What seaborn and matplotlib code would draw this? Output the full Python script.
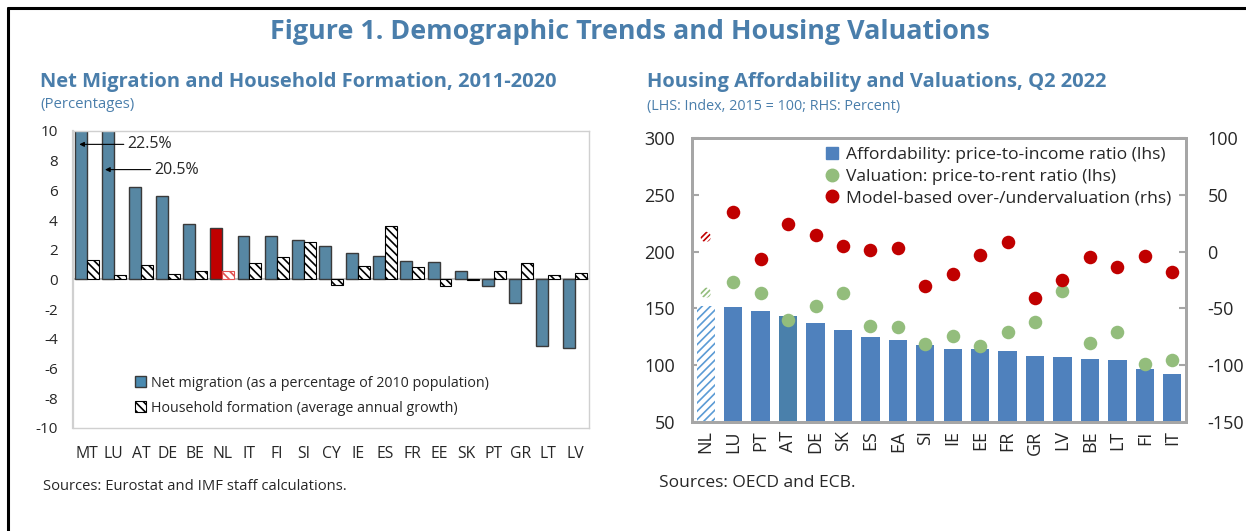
import numpy as np
import pandas as pd
import matplotlib.pyplot as plt
import seaborn as sns
from matplotlib.patches import Patch
from matplotlib.lines import Line2D

# Left panel: net migration and household formation, 2011-2020 (percent)
mig_countries = ['MT', 'LU', 'AT', 'DE', 'BE', 'NL', 'IT', 'FI', 'SI', 'CY',
                 'IE', 'ES', 'FR', 'EE', 'SK', 'PT', 'GR', 'LT', 'LV']
net_migration = [22.5, 20.5, 6.24, 5.59, 3.76, 3.46, 2.94, 2.94, 2.69, 2.25,
                 1.8, 1.55, 1.22, 1.15, 0.6, -0.43, -1.58, -4.5, -4.59]
household_formation = [1.29, 0.27, 0.95, 0.36, 0.57, 0.55, 1.09, 1.49, 2.51, -0.34,
                       0.9, 3.58, 0.85, -0.43, -0.05, 0.6, 1.12, 0.3, 0.43]

# Right panel: housing affordability and valuations, Q2 2022
val_countries = ['NL', 'LU', 'PT', 'AT', 'DE', 'SK', 'ES', 'EA', 'SI', 'IE',
                 'EE', 'FR', 'GR', 'LV', 'BE', 'LT', 'FI', 'IT']
price_to_income = [152.1, 150.9, 147.6, 143.5, 136.8, 130.9, 125.0, 122.0, 117.6, 114.1,
                   114.1, 112.6, 108.2, 106.8, 105.6, 104.4, 96.8, 92.1]
price_to_rent = [163.8, 173.0, 163.2, 139.7, 152.1, 163.8, 134.1, 133.2, 119.1, 125.9,
                 116.8, 129.1, 137.6, 165.0, 119.7, 128.8, 100.9, 105.0]
overvaluation = [13, 35, -6.5, 24, 15, 5, 1.5, 3.2, -30.6, -19.5,
                 -2.6, 8.8, -41.2, -25, -5, -13.2, -4.1, -18.2]

TITLE_BLUE = '#4a7eab'
MIG_BLUE = '#4a8ab0'
BAR_BLUE = '#4f81bd'
GREEN = '#93bd7c'
RED = '#c00000'

sns.set_style('white')
plt.rcParams['font.family'] = ['Open Sans', 'DejaVu Sans']
plt.rcParams['axes.unicode_minus'] = False
plt.rcParams['hatch.linewidth'] = 1.2

fig = plt.figure(figsize=(12.46, 5.31), dpi=100)

# ---- left panel ----
ax1 = fig.add_axes([0.0586, 0.194, 0.414, 0.5593])
df_mig = pd.DataFrame({
    'country': mig_countries * 2,
    'value': net_migration + household_formation,
    'series': ['Net migration'] * len(mig_countries) + ['Household formation'] * len(mig_countries),
})
sns.barplot(data=df_mig, x='country', y='value', hue='series', palette=[MIG_BLUE, 'white'],
            width=0.88, edgecolor='#3a3a3a', linewidth=1, ax=ax1, legend=False)
nl_i = mig_countries.index('NL')
for p in ax1.containers[1].patches:
    p.set_hatch('\\\\\\\\')
    p.set_edgecolor('black')
    p.set_linewidth(0.8)
ax1.containers[0].patches[nl_i].set_facecolor(RED)
ax1.containers[0].patches[nl_i].set_edgecolor('#3a3a3a')
ax1.containers[1].patches[nl_i].set_edgecolor('#e05050')

ax1.set_ylim(-10, 10)
ax1.set_xlim(-0.5, len(mig_countries) - 0.5)
ax1.set_yticks(np.arange(-10, 11, 2))
ax1.axhline(0, color='#bfbfbf', lw=1.5, zorder=0.5)
ax1.set_xlabel('')
ax1.set_ylabel('')
for s in ax1.spines.values():
    s.set_color('#d0d0d0')
    s.set_linewidth(1)
ax1.spines['left'].set_linewidth(1.6)
ax1.tick_params(axis='y', direction='in', length=4, color='#bfbfbf', labelsize=11, pad=11)
ax1.tick_params(axis='x', length=0, labelsize=11.3, pad=13)

arrow_kw = dict(arrowstyle='-|>', color='black', lw=0.8, mutation_scale=7, shrinkA=0, shrinkB=0)
ax1.annotate('22.5%', xy=(-0.27, 9.1), xytext=(1.49, 9.1), fontsize=11.5, va='center',
             arrowprops=arrow_kw)
ax1.annotate('20.5%', xy=(0.68, 7.4), xytext=(2.48, 7.4), fontsize=11.5, va='center',
             arrowprops=arrow_kw)

mig_handles = [Patch(facecolor=MIG_BLUE, edgecolor='#3a3a3a', lw=1),
               Patch(facecolor='white', edgecolor='black', hatch='\\\\\\\\', lw=0.8)]
ax1.legend(mig_handles, ['Net migration (as a percentage of 2010 population)',
                         'Household formation (average annual growth)'],
           loc='upper left', bbox_to_anchor=(0.12, 0.176), frameon=False, fontsize=10.3,
           handlelength=0.8, handleheight=0.8, handletextpad=0.35, labelspacing=0.7,
           borderpad=0, borderaxespad=0)

# ---- right panel ----
ax2 = fig.add_axes([0.5554, 0.2053, 0.3964, 0.5347])
xs = np.arange(len(val_countries))
sns.barplot(x=val_countries, y=price_to_income, color=BAR_BLUE, width=0.67,
            saturation=1, linewidth=0, ax=ax2)
nl_j = val_countries.index('NL')
at_j = val_countries.index('AT')
nl_bar = ax2.patches[nl_j]
nl_bar.set_facecolor('white')
nl_bar.set_edgecolor('#5b9bd5')
nl_bar.set_hatch('////')
nl_bar.set_linewidth(0)
ax2.patches[at_j].set_facecolor('#4a80ab')

mask = np.array(val_countries) != 'NL'
sns.scatterplot(x=xs[mask], y=np.array(price_to_rent)[mask], color=GREEN, s=95,
                linewidth=0, ax=ax2, zorder=3)
ax2.scatter(xs[~mask], np.array(price_to_rent)[~mask], s=55, facecolor='white',
            edgecolor=GREEN, hatch='//////', linewidth=0, zorder=3)

ax2.set_ylim(50, 300)
ax2.set_xlim(-0.5, len(val_countries) - 0.5)
ax2.set_yticks(np.arange(50, 301, 50))
ax2.set_xlabel('')
ax2.set_ylabel('')

ax3 = ax2.twinx()
sns.scatterplot(x=xs[mask], y=np.array(overvaluation)[mask], color=RED, s=95,
                linewidth=0, ax=ax3, zorder=3)
ax3.scatter(xs[~mask], np.array(overvaluation)[~mask], s=55, facecolor='white',
            edgecolor=RED, hatch='//////', linewidth=0, zorder=3)
ax3.set_ylim(-150, 100)
ax3.set_yticks(np.arange(-150, 101, 50))
ax3.set_ylabel('')

for a in (ax2, ax3):
    for s in a.spines.values():
        s.set_color('#a6a6a6')
        s.set_linewidth(2)
ax2.tick_params(axis='y', direction='in', length=5, width=1.5, color='#a6a6a6',
                labelsize=13, pad=12)
ax3.tick_params(axis='y', direction='in', length=5, width=1.5, color='#a6a6a6',
                labelsize=13, pad=15.5)
ax2.set_xticks(xs)
ax2.set_xticklabels(val_countries, rotation=90)
ax2.tick_params(axis='x', length=0, labelsize=13, pad=6)
ax2.set_xticks(xs[:-1] + 0.5, minor=True)
ax2.tick_params(axis='x', which='minor', direction='in', length=4, width=1.5, color='#a6a6a6')

val_handles = [
    Line2D([], [], marker='s', ls='', color=BAR_BLUE, markersize=9),
    Line2D([], [], marker='o', ls='', color=GREEN, markersize=9),
    Line2D([], [], marker='o', ls='', color=RED, markersize=9),
]
ax3.legend(val_handles, ['Affordability: price-to-income ratio (lhs)',
                         'Valuation: price-to-rent ratio (lhs)',
                         'Model-based over-/undervaluation (rhs)'],
           loc='upper left', bbox_to_anchor=(0.27, 0.968), frameon=False, fontsize=12.6,
           handlelength=0.8, handletextpad=0.4, labelspacing=0.3, borderpad=0,
           borderaxespad=0)

# ---- titles and notes ----
fig.text(0.5056, 0.9266, 'Figure 1. Demographic Trends and Housing Valuations',
         ha='center', va='baseline', fontsize=19.4, fontweight='bold', color=TITLE_BLUE)
fig.text(0.0321, 0.8356, 'Net Migration and Household Formation, 2011-2020',
         ha='left', va='baseline', fontsize=14.5, fontweight='bold', color=TITLE_BLUE)
fig.text(0.0321, 0.7966, '(Percentages)', ha='left', va='baseline', fontsize=10.7,
         color=TITLE_BLUE)
fig.text(0.519, 0.8356, 'Housing Affordability and Valuations, Q2 2022',
         ha='left', va='baseline', fontsize=14.5, fontweight='bold', color=TITLE_BLUE)
fig.text(0.519, 0.793, '(LHS: Index, 2015 = 100; RHS: Percent)', ha='left',
         va='baseline', fontsize=10.4, color=TITLE_BLUE)
fig.text(0.0345, 0.0772, 'Sources: Eurostat and IMF staff calculations.', ha='left',
         va='baseline', fontsize=10.6)
fig.text(0.529, 0.083, 'Sources: OECD and ECB.', ha='left', va='baseline', fontsize=12.5)

# frame lines on the top and left edge
fig.add_artist(Line2D([0.0068, 1.0], [0.984, 0.984], color='black', lw=2.2,
                      transform=fig.transFigure))
fig.add_artist(Line2D([0.0068, 0.0068], [0.0, 0.984], color='black', lw=2.2,
                      transform=fig.transFigure))

fig.savefig('out.png', dpi=100)
